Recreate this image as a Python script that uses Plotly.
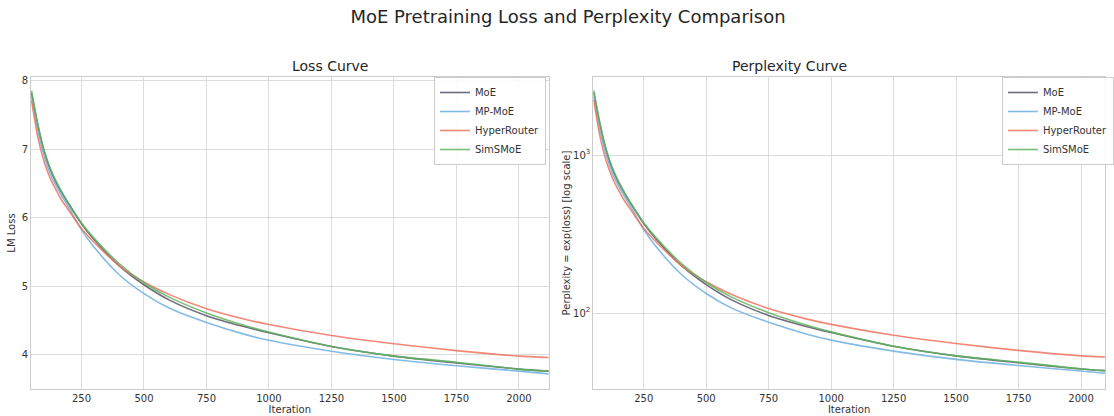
import numpy as np
import plotly.graph_objects as go

# ---- data ----
iterations = [50, 75, 100, 125, 150, 175, 200, 250, 300, 400, 500, 600, 750, 900, 1000, 1250, 1500, 1750, 2000, 2120]
loss_moe = [7.82, 7.35, 6.97, 6.70, 6.50, 6.34, 6.19, 5.91, 5.68, 5.30, 5.02, 4.80, 4.57, 4.41, 4.32, 4.12, 3.98, 3.88, 3.79, 3.76]
loss_mpmoe = [7.76, 7.28, 6.91, 6.64, 6.45, 6.29, 6.14, 5.82, 5.57, 5.17, 4.89, 4.68, 4.47, 4.30, 4.21, 4.05, 3.93, 3.84, 3.76, 3.72]
loss_hyper = [7.71, 7.18, 6.82, 6.57, 6.39, 6.23, 6.10, 5.84, 5.64, 5.30, 5.06, 4.88, 4.67, 4.52, 4.44, 4.28, 4.16, 4.06, 3.98, 3.96]
loss_simsmoe = [7.85, 7.37, 6.99, 6.72, 6.52, 6.35, 6.20, 5.92, 5.70, 5.33, 5.05, 4.84, 4.61, 4.43, 4.33, 4.12, 3.98, 3.89, 3.79, 3.76]

series_names = ["MoE", "MP-MoE", "HyperRouter", "SimSMoE"]
series_loss = [loss_moe, loss_mpmoe, loss_hyper, loss_simsmoe]
colors = ["rgba(60,60,80,0.75)", "rgba(110,175,225,0.85)", "rgba(238,115,95,0.85)", "rgba(95,180,95,0.85)"]

loss_ticks = [4, 5, 6, 7, 8]
x_ticks = [250, 500, 750, 1000, 1250, 1500, 1750, 2000]
ppl_ticks = [100, 1000]
ppl_ticktext = ["10<sup>2</sup>", "10<sup>3</sup>"]

FONT = "DejaVu Sans"
GRID = "#dcdcdc"
SPINE = "#cccccc"

fig = go.Figure()
for name, loss, col in zip(series_names, series_loss, colors):
    fig.add_trace(go.Scatter(x=iterations, y=loss, mode="lines", name=name,
                             line=dict(color=col, width=1.6, shape="spline", smoothing=0.7),
                             xaxis="x", yaxis="y", legend="legend"))
for name, loss, col in zip(series_names, series_loss, colors):
    fig.add_trace(go.Scatter(x=iterations, y=list(np.exp(loss)), mode="lines", name=name,
                             line=dict(color=col, width=1.6, shape="spline", smoothing=0.7),
                             xaxis="x2", yaxis="y2", legend="legend2"))

axis_common = dict(showgrid=True, gridcolor=GRID, gridwidth=1, showline=True, linecolor=SPINE,
                   linewidth=1, mirror=True, ticks="", zeroline=False,
                   tickfont=dict(family=FONT, size=10, color="#333"))

legend_common = dict(bgcolor="rgba(255,255,255,0.9)", bordercolor=SPINE, borderwidth=1,
                     font=dict(family=FONT, size=10, color="#333"), yanchor="top",
                     tracegroupgap=0, itemwidth=30)

fig.update_layout(
    width=1114, height=416,
    margin=dict(l=31, r=0, t=77, b=27),
    paper_bgcolor="white", plot_bgcolor="white",
    font=dict(family=FONT, color="#333"),
    title=dict(text="MoE Pretraining Loss and Perplexity Comparison", x=0.5, xref="paper",
               y=0.959, yanchor="middle", font=dict(family=FONT, size=18, color="#262626")),
    xaxis=dict(domain=[0, 0.482], range=[48, 2119], tickvals=x_ticks, **axis_common,
               title=dict(text="Iteration", font=dict(family=FONT, size=10), standoff=0)),
    yaxis=dict(domain=[0, 1], range=[3.5, 8.05], tickvals=loss_ticks, **axis_common,
               title=dict(text="LM Loss", font=dict(family=FONT, size=10), standoff=4)),
    xaxis2=dict(domain=[0.5235, 1.0], range=[48, 2096], tickvals=x_ticks, anchor="y2", **axis_common,
                title=dict(text="Iteration", font=dict(family=FONT, size=10), standoff=0)),
    yaxis2=dict(domain=[0, 1], type="log", range=[1.519, 3.494], tickvals=ppl_ticks,
                ticktext=ppl_ticktext, anchor="x2", **axis_common,
                title=dict(text="Perplexity = exp(loss) [log scale]", font=dict(family=FONT, size=10), standoff=0)),
    legend=dict(x=0.4795, xanchor="right", y=1.0, **legend_common),
    legend2=dict(x=0.904, xanchor="left", y=1.0, **legend_common),
    annotations=[
        dict(text="Loss Curve", x=0.241, xref="paper", y=1.0, yref="paper", yanchor="bottom",
             yshift=1, showarrow=False, font=dict(family=FONT, size=14, color="#262626")),
        dict(text="Perplexity Curve", x=0.7617, xref="paper", y=1.0, yref="paper", yanchor="bottom",
             yshift=1, showarrow=False, font=dict(family=FONT, size=14, color="#262626")),
    ],
)

fig.write_html("out.html", config={"displayModeBar": False},
               post_script="document.body.style.margin='0';document.body.style.overflow='hidden';")
